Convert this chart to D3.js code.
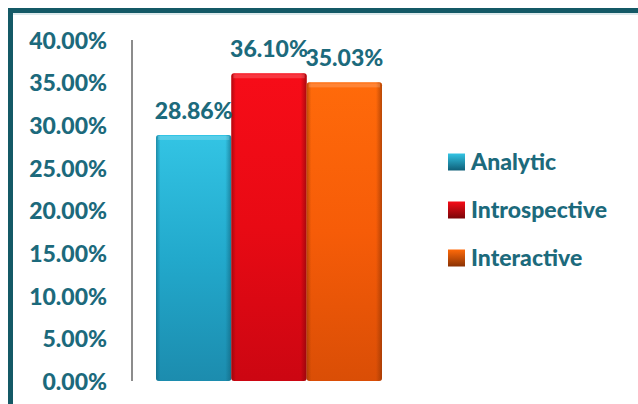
<!DOCTYPE html>
<html>
<head>
<meta charset="utf-8">
<script src="https://cdn.jsdelivr.net/npm/d3@7"></script>
<style>
  html, body { margin: 0; padding: 0; background: #fff; }
  svg { display: block; }
</style>
</head>
<body>
<svg id="chart" width="638" height="404"></svg>
<script>
// Share of each learning style
const series = ["Analytic", "Introspective", "Interactive"];
const values = [28.86, 36.10, 35.03];
const tickValues = [0, 5, 10, 15, 20, 25, 30, 35, 40];

const W = 638, H = 404;
const textColor = "#1c6a7c";
const fontFamily = "Lato, 'Open Sans', sans-serif";
const fontSize = "23px";
const fontWeight = 900;

const svg = d3.select("#chart");
const defs = svg.append("defs");

// Bar fills: light top, darker bottom, with soft dark side edges
const palettes = {
  Analytic:      { top: "#33c4e4", mid: "#22a9cc", bot: "#1c8cae", edge: "#0f5f78" },
  Introspective: { top: "#f70c18", mid: "#e80a14", bot: "#cc0612", edge: "#7a0508" },
  Interactive:   { top: "#ff6a0a", mid: "#f65c08", bot: "#da4e06", edge: "#8a3204" }
};
series.forEach((s, i) => {
  const p = palettes[s];
  const g = defs.append("linearGradient").attr("id", "v" + i)
    .attr("x1", 0).attr("y1", 0).attr("x2", 0).attr("y2", 1);
  g.append("stop").attr("offset", 0).attr("stop-color", p.top);
  g.append("stop").attr("offset", 0.5).attr("stop-color", p.mid);
  g.append("stop").attr("offset", 1).attr("stop-color", p.bot);
  const h = defs.append("linearGradient").attr("id", "h" + i)
    .attr("x1", 0).attr("y1", 0).attr("x2", 1).attr("y2", 0);
  h.append("stop").attr("offset", 0).attr("stop-color", p.edge).attr("stop-opacity", 0.55);
  h.append("stop").attr("offset", 0.06).attr("stop-color", p.edge).attr("stop-opacity", 0);
  h.append("stop").attr("offset", 0.92).attr("stop-color", p.edge).attr("stop-opacity", 0);
  h.append("stop").attr("offset", 1).attr("stop-color", p.edge).attr("stop-opacity", 0.6);
  // legend swatch gradient
  const l = defs.append("linearGradient").attr("id", "l" + i)
    .attr("x1", 0).attr("y1", 0).attr("x2", 0).attr("y2", 1);
  l.append("stop").attr("offset", 0).attr("stop-color", p.top);
  l.append("stop").attr("offset", 1).attr("stop-color", p.edge);
});

// Frame
svg.append("path")
  .attr("d", `M10.5,${H} V10.5 H${W}`)
  .attr("fill", "none").attr("stroke", "#145966").attr("stroke-width", 5);
svg.append("line")
  .attr("x1", 13).attr("x2", W).attr("y1", 14).attr("y2", 14)
  .attr("stroke", "#b9d3d8").attr("stroke-width", 1);

// Scales
const y = d3.scaleLinear().domain([0, 40]).range([381, 40]);
const x = d3.scaleBand().domain(series).range([156, 382]).padding(0);

// Y axis
const yAxis = svg.append("g")
  .attr("transform", "translate(132,0)")
  .call(d3.axisLeft(y).tickValues(tickValues).tickSize(0).tickPadding(25)
    .tickFormat(d => d.toFixed(2) + "%"));
yAxis.select(".domain").attr("stroke", "#8c8c8c").attr("stroke-width", 2)
  .attr("d", `M0,${y(0)}V${y(40)}`);
yAxis.selectAll("text")
  .attr("fill", textColor)
  .style("font-family", fontFamily)
  .style("font-weight", fontWeight)
  .style("font-size", fontSize)
  .attr("dy", "0.36em");

// Bars
const bars = svg.append("g");
series.forEach((s, i) => {
  const x0 = x(s), w = x.bandwidth(), top = y(values[i]), h = y(0) - top;
  bars.append("rect")
    .attr("x", x0).attr("y", top).attr("width", w).attr("height", h)
    .attr("rx", 3)
    .attr("fill", `url(#v${i})`);
  bars.append("rect")
    .attr("x", x0).attr("y", top).attr("width", w).attr("height", h)
    .attr("rx", 3)
    .attr("fill", `url(#h${i})`);
  // top bevel highlight
  bars.append("rect")
    .attr("x", x0 + 2).attr("y", top + 1).attr("width", w - 4).attr("height", 4)
    .attr("fill", "#ffffff").attr("opacity", 0.18);
});

// Value labels
svg.append("g").selectAll("text")
  .data(series)
  .join("text")
  .attr("x", d => x(d) + x.bandwidth() / 2)
  .attr("y", (d, i) => y(values[i]) - 16)
  .attr("text-anchor", "middle")
  .attr("fill", textColor)
  .style("font-family", fontFamily)
  .style("font-weight", fontWeight)
  .style("font-size", fontSize)
  .text((d, i) => values[i].toFixed(2) + "%");

// Legend
const legend = svg.append("g").attr("transform", "translate(448,162)");
const item = legend.selectAll("g")
  .data(series)
  .join("g")
  .attr("transform", (d, i) => `translate(0,${i * 48})`);
item.append("rect")
  .attr("x", 0).attr("y", -8.5).attr("width", 17).attr("height", 17)
  .attr("fill", (d, i) => `url(#l${i})`);
item.append("text")
  .attr("x", 23).attr("y", 0).attr("dy", "0.36em")
  .attr("fill", textColor)
  .style("font-family", fontFamily)
  .style("font-weight", fontWeight)
  .style("font-size", fontSize)
  .text(d => d);
</script>
</body>
</html>
